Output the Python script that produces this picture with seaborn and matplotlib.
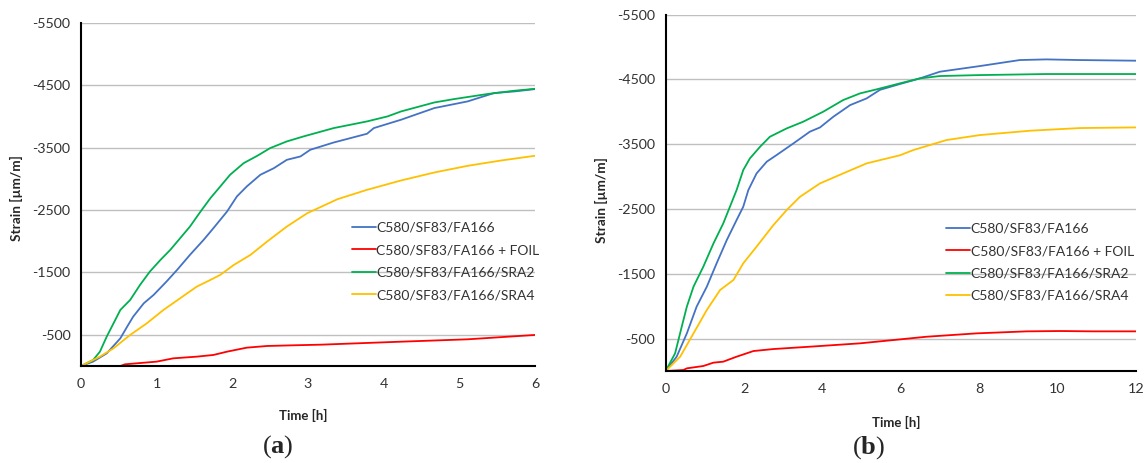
import matplotlib
matplotlib.use('Agg')
import matplotlib.pyplot as plt
import numpy as np
import pandas as pd
import seaborn as sns

# Series names and colours (Excel style)
series_names = ['C580/SF83/FA166', 'C580/SF83/FA166 + FOIL',
                'C580/SF83/FA166/SRA2', 'C580/SF83/FA166/SRA4']
series_colors = ['#4472C4', '#FF0000', '#00B050', '#FFC000']

y_ticks = [-500, -1500, -2500, -3500, -4500, -5500]
y_tick_labels = ['-500', '-1500', '-2500', '-3500', '-4500', '-5500']

# ---- panel (a): 0-6 h ----
a_blue_t = [0, 0.16, 0.34, 0.52, 0.61, 0.69, 0.83, 0.96, 1.13, 1.27, 1.44, 1.62, 1.75, 1.93,
            2.06, 2.19, 2.37, 2.55, 2.72, 2.9, 3.03, 3.34, 3.78, 3.87, 4.23, 4.67, 5.11, 5.46, 5.73, 6.0]
a_blue_s = [0, -70, -203, -444, -631, -792, -1006, -1140, -1354, -1541, -1782, -2022, -2210, -2477,
            -2718, -2878, -3066, -3173, -3306, -3360, -3467, -3584, -3724, -3815, -3949, -4136, -4243,
            -4377, -4403, -4440]

a_red_t = [0, 0.52, 0.58, 1.0, 1.22, 1.53, 1.75, 1.93, 2.19, 2.46, 2.81, 3.17, 4.23, 5.11, 6.0]
a_red_s = [0, 0, -27, -70, -123, -150, -177, -230, -294, -321, -332, -342, -390, -428, -498]

a_green_t = [0, 0.16, 0.25, 0.34, 0.43, 0.52, 0.65, 0.78, 0.91, 1.05, 1.18, 1.31, 1.44, 1.58, 1.71,
             1.84, 1.97, 2.15, 2.33, 2.5, 2.72, 2.94, 3.34, 3.78, 4.05, 4.23, 4.67, 4.93, 5.37, 5.73, 6.0]
a_green_s = [0, -96, -230, -471, -685, -899, -1059, -1300, -1514, -1701, -1862, -2049, -2236, -2477,
             -2691, -2878, -3066, -3253, -3371, -3494, -3601, -3681, -3815, -3922, -4002, -4082,
             -4226, -4280, -4361, -4414, -4445]

a_yellow_t = [0, 0.25, 0.43, 0.65, 0.87, 1.09, 1.31, 1.53, 1.71, 1.84, 2.02, 2.24, 2.46, 2.72, 2.99,
              3.39, 3.78, 4.23, 4.67, 5.11, 5.55, 6.0]
a_yellow_s = [0, -150, -284, -498, -685, -899, -1086, -1273, -1380, -1461, -1621, -1782, -1996,
              -2236, -2450, -2675, -2825, -2975, -3103, -3210, -3295, -3371]

# ---- panel (b): 0-12 h ----
b_blue_t = [0, 0.28, 0.54, 0.79, 1.05, 1.3, 1.56, 1.81, 1.98, 2.11, 2.32, 2.58, 2.83, 3.26, 3.68,
            3.94, 4.28, 4.71, 5.13, 5.47, 5.98, 6.49, 7.0, 8.02, 9.04, 9.72, 10.57, 12.0]
b_blue_s = [0, -221, -581, -994, -1302, -1662, -2022, -2330, -2536, -2793, -3050, -3231, -3333,
            -3513, -3694, -3760, -3925, -4105, -4208, -4340, -4430, -4517, -4620, -4707, -4800,
            -4810, -4800, -4790]

b_red_t = [0, 0.45, 0.54, 0.96, 1.22, 1.47, 1.81, 2.24, 2.75, 3.68, 4.96, 5.98, 6.66, 7.94, 9.22,
           10.07, 10.92, 12.0]
b_red_s = [0, -15, -41, -77, -129, -144, -221, -308, -339, -375, -427, -488, -529, -581, -612,
           -617, -612, -612]

b_green_t = [0, 0.24, 0.41, 0.54, 0.71, 0.96, 1.22, 1.47, 1.64, 1.81, 1.98, 2.15, 2.41, 2.66, 3.09,
             3.51, 4.02, 4.53, 4.96, 5.38, 5.98, 6.49, 7.0, 8.02, 9.72, 12.0]
b_green_s = [0, -273, -685, -994, -1302, -1610, -1970, -2279, -2536, -2793, -3102, -3282, -3462,
             -3616, -3745, -3848, -4002, -4182, -4285, -4347, -4440, -4517, -4553, -4568, -4584, -4584]

b_yellow_t = [0, 0.37, 0.71, 1.05, 1.39, 1.73, 1.98, 2.32, 2.75, 3.09, 3.43, 3.94, 4.53, 5.13, 5.98,
              6.32, 7.17, 8.02, 9.3, 10.57, 12.0]
b_yellow_s = [0, -221, -581, -942, -1251, -1405, -1662, -1919, -2253, -2485, -2690, -2896, -3050,
              -3205, -3330, -3410, -3565, -3642, -3709, -3750, -3760]


def long_frame(times, strains):
    parts = []
    for name, t, s in zip(series_names, times, strains):
        parts.append(pd.DataFrame({'time': t, 'strain': s, 'series': name}))
    return pd.concat(parts, ignore_index=True)


df_a = long_frame([a_blue_t, a_red_t, a_green_t, a_yellow_t],
                  [a_blue_s, a_red_s, a_green_s, a_yellow_s])
df_b = long_frame([b_blue_t, b_red_t, b_green_t, b_yellow_t],
                  [b_blue_s, b_red_s, b_green_s, b_yellow_s])

sns.set_style('white')
plt.rcParams['font.family'] = ['Lato', 'DejaVu Sans']
plt.rcParams['axes.unicode_minus'] = False
plt.rcParams['mathtext.fontset'] = 'custom'
plt.rcParams['mathtext.rm'] = 'Liberation Serif'
plt.rcParams['mathtext.bf'] = 'Liberation Serif:bold'

fig = plt.figure(figsize=(11.46, 4.63), dpi=100)
ax_a = fig.add_axes([81 / 1146, 1 - 366 / 463, 454 / 1146, 343 / 463])
ax_b = fig.add_axes([665.7 / 1146, 1 - 371 / 463, 470 / 1146, 356.3 / 463])


def draw_panel(ax, df, xmax, xstep, ylab_x, ylab_y):
    sns.lineplot(data=df, x='time', y='strain', hue='series', hue_order=series_names,
                 palette=series_colors, estimator=None, sort=False, linewidth=1.3, ax=ax)
    ax.set_xlim(0, xmax)
    ax.set_ylim(0, -5500)
    ax.set_xticks(np.arange(0, xmax + 0.1, xstep))
    ax.set_xticklabels([str(int(v)) for v in np.arange(0, xmax + 0.1, xstep)])
    ax.set_yticks(y_ticks)
    ax.set_yticklabels(y_tick_labels)
    ax.grid(axis='y', color='#BFBFBF', linewidth=1.0)
    ax.set_axisbelow(True)
    for side in ['top', 'right']:
        ax.spines[side].set_visible(False)
    for side in ['left', 'bottom']:
        ax.spines[side].set_color('black')
        ax.spines[side].set_linewidth(1.5)
    ax.tick_params(axis='both', direction='inout', length=7, width=1.3, color='black',
                   labelsize=10.3, labelcolor='#333333')
    ax.tick_params(axis='x', pad=5)
    ax.tick_params(axis='y', pad=4)
    ax.set_xlabel('Time [h]', fontsize=9.5, fontweight='bold')
    ax.set_ylabel('Strain [µm/m]', fontsize=9.8, fontweight='bold')
    ax.xaxis.set_label_coords(0.49, -0.125)
    ax.yaxis.set_label_coords(ylab_x, ylab_y)
    handles, labels = ax.get_legend_handles_labels()
    ax.legend(handles, labels, loc='center left', bbox_to_anchor=(0.597, 0.305),
              frameon=False, fontsize=10, handlelength=1.7, handletextpad=0.05,
              labelspacing=0.75, borderpad=0, borderaxespad=0, labelcolor='#333333')


draw_panel(ax_a, df_a, 6, 1, -0.127, 0.49)
draw_panel(ax_b, df_b, 12, 2, -0.123, 0.48)

fig.text(278 / 1146, 1 - 447 / 463, r'($\mathbf{a}$)', ha='center', va='center',
         fontsize=19, family='Liberation Serif')
fig.text(869 / 1146, 1 - 448 / 463, r'($\mathbf{b}$)', ha='center', va='center',
         fontsize=19, family='Liberation Serif')

fig.savefig('out.png', dpi=100)
